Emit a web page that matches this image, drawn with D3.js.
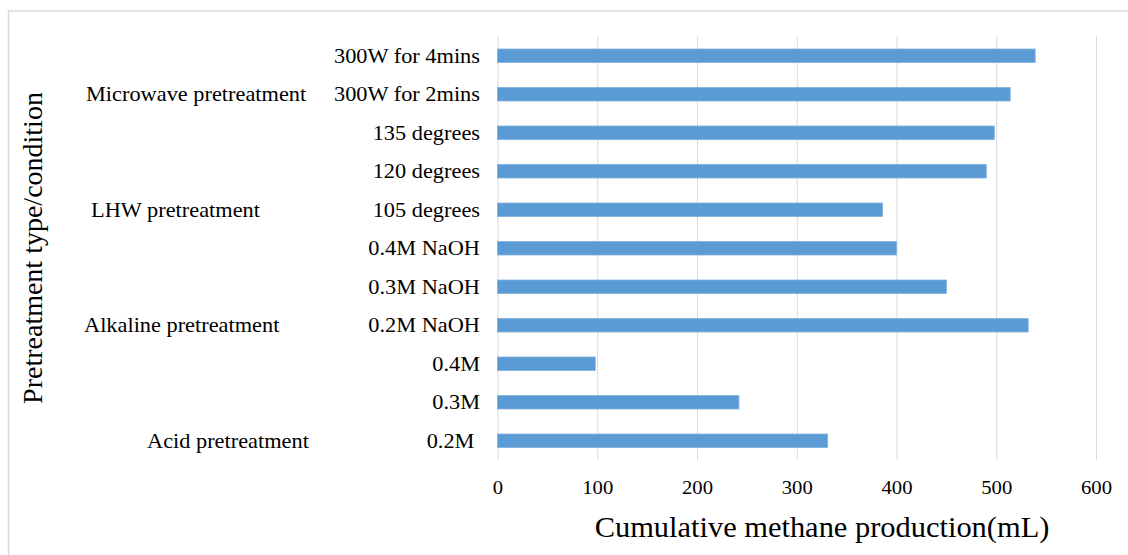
<!DOCTYPE html>
<html>
<head>
<meta charset="utf-8">
<script src="https://cdn.jsdelivr.net/npm/d3@7"></script>
<style>
  html, body { margin: 0; padding: 0; background: #fff; }
  svg { display: block; }
  text { font-family: "Liberation Serif", "Times New Roman", serif; fill: #000; }
</style>
</head>
<body>
<svg id="chart" width="1128" height="555"></svg>
<script>
// Conditions, listed from bottom to top of the chart
const categories = ["0.2M ", "0.3M", "0.4M", "0.2M NaOH", "0.3M NaOH", "0.4M NaOH",
                    "105 degrees", "120 degrees", "135 degrees", "300W for 2mins", "300W for 4mins"];
// Cumulative methane production (mL) for each condition
const values = [331, 242, 98, 532, 450, 400, 386, 490, 498, 514, 539];
// Pretreatment groups and the condition row each group name sits on
const groupNames = ["Acid pretreatment", "Alkaline pretreatment", "LHW pretreatment", "Microwave pretreatment"];
const groupRows = ["0.2M ", "0.2M NaOH", "105 degrees", "300W for 2mins"];
const xTicks = [0, 100, 200, 300, 400, 500, 600];
const xTitle = "Cumulative methane production(mL)";
const yTitle = "Pretreatment type/condition";

// layout
const plot = { left: 497.5, right: 1096, top: 36.5, bottom: 460 };
const groupLabelX = [147, 84, 91, 86];
const barColor = "#5b9bd5";
const gridColor = "#d9d9d9";
const labelStretch = 1.09;   // the serif labels are set slightly wide

const svg = d3.select("#chart");

// chart area frame
svg.append("rect")
  .attr("x", 8.5).attr("y", 11)
  .attr("width", 1200).attr("height", 600)
  .attr("fill", "#fff")
  .attr("stroke", gridColor).attr("stroke-width", 1.5);

const x = d3.scaleLinear().domain([0, 600]).range([plot.left, plot.right]);
const y = d3.scaleBand()
  .domain(categories.slice().reverse())
  .range([plot.top, plot.bottom])
  .paddingInner(0.65)
  .paddingOuter(0.325);

// vertical gridlines + tick labels
const xAxis = d3.axisBottom(x)
  .tickValues(xTicks)
  .tickSize(-(plot.bottom - plot.top))
  .tickPadding(0)
  .tickFormat(d3.format("d"));

const gx = svg.append("g")
  .attr("transform", `translate(0,${plot.bottom})`)
  .call(xAxis);
gx.select(".domain").remove();
gx.selectAll(".tick line").attr("stroke", gridColor).attr("stroke-width", 1);
gx.selectAll(".tick text")
  .attr("y", 0).attr("dy", null)
  .attr("transform", `translate(0,34) scale(${labelStretch},1)`)
  .style("font-size", "19px")
  .style("font-family", "'Liberation Serif', serif")
  .attr("fill", "#000");

// bars
svg.append("g").selectAll("rect")
  .data(categories.map((c, i) => ({ c, v: values[i] })))
  .join("rect")
  .attr("x", x(0))
  .attr("y", d => y(d.c))
  .attr("width", d => x(d.v) - x(0))
  .attr("height", y.bandwidth())
  .attr("fill", barColor)
  .attr("stroke", "#7eb0de")
  .attr("stroke-width", 0.8);

// condition labels
svg.append("g").selectAll("text")
  .data(categories)
  .join("text")
  .attr("transform", d => `translate(480,${y(d) + y.bandwidth() / 2}) scale(${labelStretch},1)`)
  .attr("dy", "0.35em")
  .attr("text-anchor", "end")
  .style("white-space", "pre")
  .attr("xml:space", "preserve")
  .style("font-size", "20.5px")
  .text(d => d);

// group labels
svg.append("g").selectAll("text")
  .data(groupNames)
  .join("text")
  .attr("transform", (d, i) => `translate(${groupLabelX[i]},${y(groupRows[i]) + y.bandwidth() / 2}) scale(${labelStretch},1)`)
  .attr("dy", "0.35em")
  .style("font-size", "20.5px")
  .text(d => d);

// axis titles
svg.append("text")
  .attr("transform", `translate(822,537) scale(1.05,1)`)
  .attr("text-anchor", "middle")
  .style("font-size", "29px")
  .text(xTitle);

svg.append("text")
  .attr("transform", `translate(42,248) rotate(-90)`)
  .attr("text-anchor", "middle")
  .style("font-size", "28px")
  .text(yTitle);
</script>
</body>
</html>
